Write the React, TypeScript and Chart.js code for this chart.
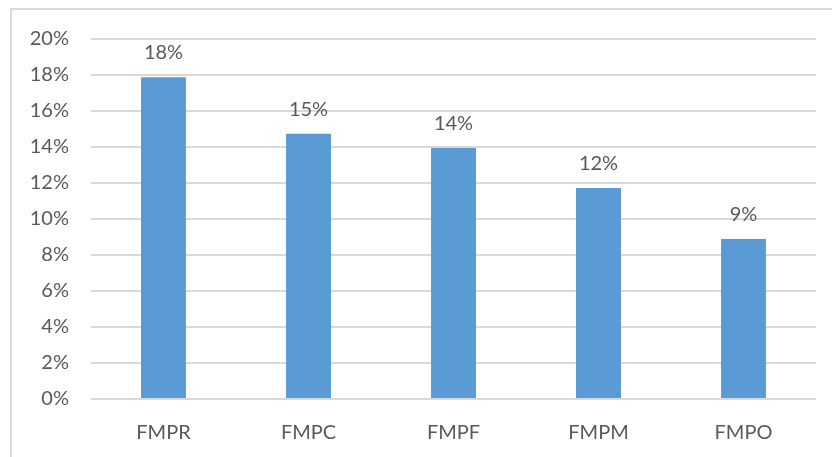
import React, { useEffect, useRef } from "react";
import { Chart, registerables } from "chart.js";

Chart.register(...registerables);

const categories: string[] = ["FMPR", "FMPC", "FMPF", "FMPM", "FMPO"];
const shares: number[] = [17.87, 14.74, 13.94, 11.72, 8.89];
const yTicks: number[] = [0, 2, 4, 6, 8, 10, 12, 14, 16, 18, 20];

const TEXT_COLOR = "#595959";
const GRID_COLOR = "#d9d9d9";
const BAR_COLOR = "#5b9bd5";
const FONT_FAMILY = "Lato, 'Open Sans', sans-serif";

// Light frame around the chart (left and top edges)
const framePlugin = {
  id: "frame",
  beforeDraw(chart: any) {
    const { ctx, width, height } = chart;
    ctx.save();
    ctx.fillStyle = "#ffffff";
    ctx.fillRect(0, 0, width, height);
    ctx.strokeStyle = GRID_COLOR;
    ctx.lineWidth = 2;
    ctx.beginPath();
    ctx.moveTo(11, height);
    ctx.lineTo(11, 9);
    ctx.lineTo(width, 9);
    ctx.stroke();
    ctx.restore();
  },
};

// Rounded percentage above each bar
const valueLabelPlugin = {
  id: "valueLabels",
  afterDatasetsDraw(chart: any) {
    const { ctx } = chart;
    const meta = chart.getDatasetMeta(0);
    ctx.save();
    ctx.fillStyle = TEXT_COLOR;
    ctx.font = `20px ${FONT_FAMILY}`;
    ctx.textAlign = "center";
    ctx.textBaseline = "alphabetic";
    meta.data.forEach((bar: any, i: number) => {
      const v = shares[i];
      ctx.fillText(`${Math.round(v)}%`, bar.x, bar.y - 18);
    });
    ctx.restore();
  },
};

export default function App() {
  const canvasRef = useRef<HTMLCanvasElement | null>(null);

  useEffect(() => {
    if (!canvasRef.current) return;
    const chart = new Chart(canvasRef.current, {
      type: "bar",
      data: {
        labels: categories,
        datasets: [
          {
            data: shares,
            backgroundColor: BAR_COLOR,
            borderWidth: 0,
            categoryPercentage: 1,
            barPercentage: 0.31,
          },
        ],
      },
      options: {
        responsive: false,
        animation: false,
        devicePixelRatio: 1,
        layout: { padding: { top: 39, right: 16, bottom: 0, left: 0 } },
        plugins: {
          legend: { display: false },
          tooltip: { enabled: false },
        },
        scales: {
          x: {
            grid: { display: false, drawTicks: false },
            border: { display: false },
            ticks: {
              color: TEXT_COLOR,
              font: { family: FONT_FAMILY, size: 20 },
              padding: 22,
            },
            afterFit(scale: any) {
              scale.height = 58;
            },
          },
          y: {
            min: 0,
            max: 20,
            afterBuildTicks(scale: any) {
              scale.ticks = yTicks.map((v) => ({ value: v }));
            },
            grid: { color: GRID_COLOR, lineWidth: 2, drawTicks: false },
            border: { display: false },
            ticks: {
              color: TEXT_COLOR,
              font: { family: FONT_FAMILY, size: 20 },
              padding: 22,
              callback: (v: any) => `${v}%`,
            },
            afterFit(scale: any) {
              scale.width = 91;
            },
          },
        },
      },
      plugins: [framePlugin, valueLabelPlugin],
    });
    return () => chart.destroy();
  }, []);

  return (
    <div style={{ position: "absolute", left: 0, top: 0, width: 832, height: 457 }}>
      <canvas ref={canvasRef} width={832} height={457} />
    </div>
  );
}
